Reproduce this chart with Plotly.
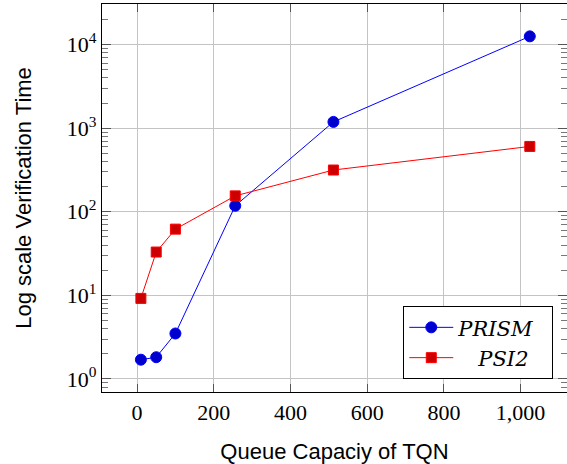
import plotly.graph_objects as go

capacity = [10, 50, 100, 256, 512, 1024]
prism = [1.70, 1.82, 3.5, 118, 1190, 12560]
psi2 = [9.2, 33, 62, 155, 316, 605]

ytick_vals = [1, 10, 100, 1000, 10000]
ytick_text = ["10<sup>0</sup>", "10<sup>1</sup>", "10<sup>2</sup>", "10<sup>3</sup>", "10<sup>4</sup>"]
xtick_vals = [0, 200, 400, 600, 800, 1000]
xtick_text = ["0", "200", "400", "600", "800", "1,000"]

serif = "Liberation Serif, DejaVu Serif, serif"
legend_font = "DejaVu Serif, Liberation Serif, serif"
sans = "Liberation Sans, Arial, sans-serif"

fig = go.Figure()
fig.add_trace(go.Scatter(
    x=capacity, y=prism, mode="lines+markers", name="<i>PRISM</i>&nbsp;&nbsp;",
    line=dict(color="#0000ff", width=1),
    marker=dict(symbol="circle", size=11, color="#0000cc", line=dict(color="#0000ff", width=1)),
))
fig.add_trace(go.Scatter(
    x=capacity, y=psi2, mode="lines+markers", name="&nbsp;&nbsp;&nbsp;<i>PSI2</i>",
    line=dict(color="#ff0000", width=1),
    marker=dict(symbol="square", size=10, color="#cc0000", line=dict(color="#ff0000", width=1)),
))

fig.update_layout(
    width=567, height=464,
    margin=dict(l=102, r=0, t=4, b=72),
    paper_bgcolor="white", plot_bgcolor="white",
    showlegend=True,
    legend=dict(
        x=0.9705, y=0.033, xanchor="right", yanchor="bottom",
        bgcolor="white", bordercolor="black", borderwidth=1,
        font=dict(family=legend_font, size=21, color="black"),
        tracegroupgap=0, itemwidth=44,
    ),
)
fig.update_xaxes(
    range=[-91.4, 1121], tickvals=xtick_vals, ticktext=xtick_text, automargin=False,
    showgrid=True, gridcolor="#c4c4c4", gridwidth=1, zeroline=False,
    showline=True, linecolor="black", linewidth=1.3, mirror="allticks",
    ticks="inside", ticklen=8, tickcolor="#555555", tickwidth=1,
    tickfont=dict(family=serif, size=22, color="black"),
    title=dict(text="Queue Capaciy of TQN", font=dict(family=sans, size=22, color="black"), standoff=21),
)
fig.update_yaxes(
    type="log", range=[-0.156, 4.486], tickvals=ytick_vals, ticktext=ytick_text, automargin=False,
    showgrid=True, gridcolor="#c4c4c4", gridwidth=1, zeroline=False,
    showline=True, linecolor="black", linewidth=1.3, mirror="allticks",
    ticks="inside", ticklen=9, tickcolor="#555555", tickwidth=1,
    minor=dict(ticks="inside", ticklen=6, tickcolor="#777777", tickwidth=1, showgrid=False, dtick="D1"),
    tickfont=dict(family=serif, size=22, color="black"),
    title=dict(text="Log scale Verification Time", font=dict(family=sans, size=22, color="black"), standoff=29),
)

fig.write_html(
    "out.html",
    config={"displayModeBar": False},
    post_script="document.body.style.margin='0';document.body.style.overflow='hidden';",
)
